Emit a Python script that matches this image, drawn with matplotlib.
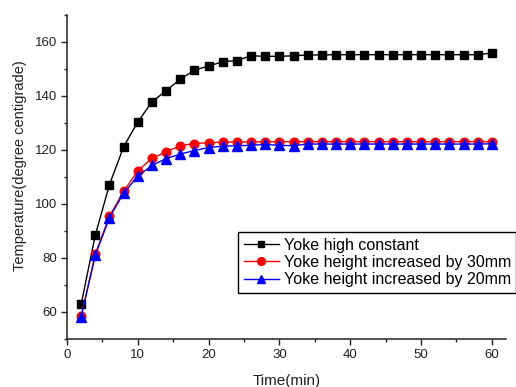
import matplotlib
matplotlib.use("Agg")
import matplotlib.pyplot as plt
from matplotlib.ticker import MultipleLocator

plt.rcParams["font.family"] = ["Liberation Sans", "DejaVu Sans"]

# Datos
time_min = [2, 4, 6, 8, 10, 12, 14, 16, 18, 20, 22, 24, 26, 28, 30,
            32, 34, 36, 38, 40, 42, 44, 46, 48, 50, 52, 54, 56, 58, 60]
temp_constant = [62.9, 88.5, 107.2, 121.2, 130.4, 137.8, 142.0, 146.2, 149.6, 151.1,
                 152.7, 153.1, 154.9, 154.7, 154.7, 154.9, 155.2, 155.2, 155.3, 155.3,
                 155.3, 155.3, 155.3, 155.3, 155.3, 155.3, 155.3, 155.3, 155.3, 155.9]
temp_30mm = [58.5, 81.5, 95.5, 104.7, 112.3, 116.9, 119.3, 121.6, 122.4, 122.7,
             122.9, 123.0, 123.0, 123.1, 123.1, 123.1, 123.1, 123.1, 123.1, 123.1,
             123.1, 123.1, 123.1, 123.1, 123.1, 123.1, 123.1, 123.1, 123.1, 123.1]
temp_20mm = [58.3, 81.0, 95.0, 104.0, 110.3, 114.3, 116.8, 118.5, 119.8, 120.9,
             121.4, 121.6, 121.7, 122.1, 121.7, 121.6, 122.2, 122.2, 122.2, 122.2,
             122.2, 122.2, 122.2, 122.2, 122.2, 122.2, 122.2, 122.2, 122.2, 122.3]
labels = ["Yoke high constant", "Yoke height increased by 30mm",
          "Yoke height increased by 20mm"]

fig = plt.figure(figsize=(5.16, 3.87), dpi=100)
ax = fig.add_axes([67 / 516, 1 - 339 / 387, (506 - 67) / 516, (339 - 15) / 387])

ax.plot(time_min, temp_constant, color="black", marker="s", ms=5.5, lw=1, label=labels[0])
ax.plot(time_min, temp_30mm, color="red", marker="o", ms=6.2, lw=1, label=labels[1])
ax.plot(time_min, temp_20mm, color="blue", marker="^", ms=6.5, lw=1, label=labels[2])

ax.set_xlim(0, 62)
ax.set_ylim(50, 170)
ax.xaxis.set_major_locator(MultipleLocator(10))
ax.xaxis.set_minor_locator(MultipleLocator(5))
ax.yaxis.set_major_locator(MultipleLocator(20))
ax.yaxis.set_minor_locator(MultipleLocator(10))
ax.spines["top"].set_visible(False)
ax.spines["right"].set_visible(False)
for s in ["left", "bottom"]:
    ax.spines[s].set_linewidth(1.1)
    ax.spines[s].set_color("#222222")
ax.tick_params(which="major", direction="out", length=4, width=1, labelsize=9.5,
               colors="#222222", pad=3)
ax.tick_params(which="minor", direction="out", length=2.5, width=1, colors="#222222")

fig.text(20 / 516, 1 - 166 / 387, "Temperature(degree centigrade)", rotation=90,
         ha="center", va="center", fontsize=10.5, color="#222222")
fig.text(286.5 / 516, 1 - 381 / 387, "Time(min)", ha="center", va="center",
         fontsize=11, color="#222222")

leg = ax.legend(loc="upper left", bbox_to_anchor=(238 / 516, 1 - 232 / 387),
                bbox_transform=fig.transFigure, fontsize=11.5, frameon=True,
                fancybox=False, edgecolor="black", framealpha=1,
                handlelength=2.2, handletextpad=0.3, labelspacing=0.15,
                borderpad=0.35, borderaxespad=0, markerscale=0.9)
leg.get_frame().set_linewidth(1)

fig.savefig("out.png", dpi=100)
